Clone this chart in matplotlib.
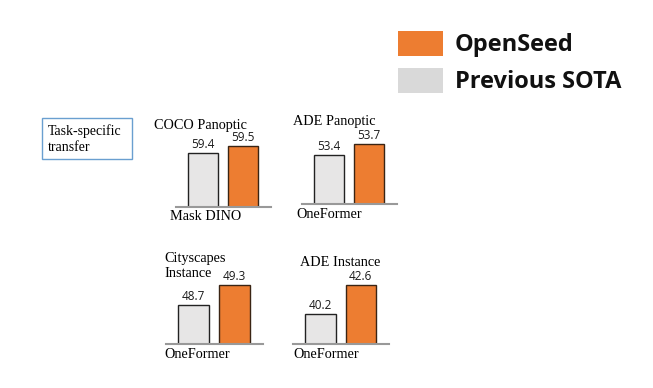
import matplotlib
matplotlib.use('Agg')
import matplotlib.pyplot as plt
from matplotlib.patches import Rectangle

# data
tasks = ["COCO Panoptic", "ADE Panoptic", "Cityscapes\nInstance", "ADE Instance"]
baselines = ["Mask DINO", "OneFormer", "OneFormer", "OneFormer"]
prev_sota = [59.4, 53.4, 48.7, 40.2]
openseed = [59.5, 53.7, 49.3, 42.6]
series_names = ["OpenSeed", "Previous SOTA"]

ORANGE = "#ED7D31"
GRAY = "#E7E6E6"
W, H = 653, 388

fig = plt.figure(figsize=(W / 100, H / 100), dpi=100)


def fx(px):
    return px / W


def fy(py):
    return 1 - py / H


# axes rect in pixels: left, baseline, width ; title pos ; baseline label pos ; y range
panels = [
    dict(left=176, base=207, width=95, title=(154, 126), lab=(170, 217), ylim=(58.63, 59.63)),
    dict(left=302, base=204, width=95, title=(293, 122), lab=(296, 214), ylim=(52.06, 53.97)),
    dict(left=166, base=344, width=97, title=(164, 266), lab=(164, 354), ylim=(47.53, 49.63)),
    dict(left=293, base=344, width=96, title=(300, 263), lab=(293, 354), ylim=(37.72, 43.51)),
]

for i, p in enumerate(panels):
    ax = fig.add_axes([fx(p["left"]), fy(p["base"]), fx(p["width"]), 70 / H])
    vals = [prev_sota[i], openseed[i]]
    bars = ax.bar([0, 1], vals, width=0.75, color=[GRAY, ORANGE],
                  edgecolor=["#222222", "#3a2414"], linewidth=1.0)
    ax.set_xlim(-0.68, 1.7)
    ax.set_ylim(*p["ylim"])
    for s in ["top", "right", "left"]:
        ax.spines[s].set_visible(False)
    ax.spines["bottom"].set_color("#999999")
    ax.spines["bottom"].set_linewidth(1.5)
    ax.set_xticks([])
    ax.set_yticks([])
    ax.patch.set_alpha(0)
    for b, v in zip(bars, vals):
        ax.annotate(f"{v:.1f}", (b.get_x() + b.get_width() / 2, v),
                    xytext=(0, 1.2), textcoords="offset points",
                    ha="center", va="bottom", fontsize=8.5,
                    family="Open Sans", color="#1a1a1a", annotation_clip=False)
    fig.text(fx(p["title"][0]), fy(p["title"][1]), tasks[i], ha="left", va="center",
             fontsize=10.3, family="Liberation Serif", linespacing=1.15)
    fig.text(fx(p["lab"][0]), fy(p["lab"][1]), baselines[i], ha="left", va="center",
             fontsize=10.3, family="Liberation Serif")

# task-specific box
fig.patches.append(Rectangle((fx(42), fy(159)), fx(90), 41 / H, transform=fig.transFigure,
                             fill=False, edgecolor="#6a9fd0", linewidth=1.0))
fig.text(fx(48), fy(139), "Task-specific\ntransfer", ha="left", va="center",
         fontsize=10, family="Liberation Serif", linespacing=1.25)

# legend
for name, col, y in zip(series_names, [ORANGE, "#D9D9D9"], [43, 80]):
    fig.patches.append(Rectangle((fx(398), fy(y + 12.5)), fx(45), 25 / H,
                                 transform=fig.transFigure, facecolor=col, edgecolor="none"))
    fig.text(fx(455), fy(y + 2), name, ha="left", va="center", fontsize=17,
             family="Open Sans", fontweight="bold", color="#111111")

fig.savefig("out.png", dpi=100)
